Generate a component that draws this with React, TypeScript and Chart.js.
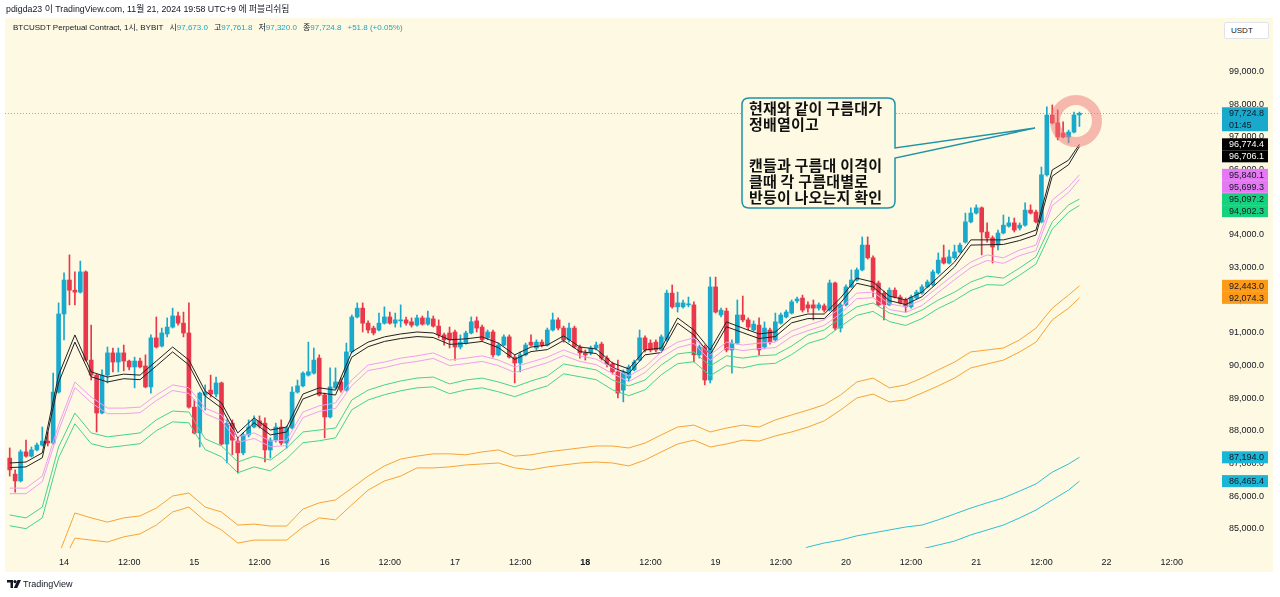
import React, { useEffect, useRef } from "react";
import { Chart, registerables } from "chart.js";

Chart.register(...registerables);

// ---------- DATA ----------
// candles: hourly, first candle = Nov 13 14:00 (hour -10 relative to Nov 14 00:00, UTC+9)
const FIRST_HOUR = -10;

const OPEN = [
  87170, 86680, 86470, 87360, 87230, 87420, 87570, 87690, 87630, 89190,
  91580, 92620, 92310, 92250, 92870, 90170, 89710, 88550, 89710, 90390,
  90110, 90390, 90140, 89960, 90140, 89990, 89350, 90850, 90600, 90970,
  91180, 91520, 91300, 91000, 88730, 87940, 89100, 89250, 89130, 89470,
  87600, 88240, 87690, 87330, 87880, 88120, 88310, 88240, 87420, 87720,
  88120, 87630, 88090, 89190, 89380, 89710, 89770, 90230, 89100, 88430,
  89320, 89500, 89250, 90420, 91490, 91760, 91300, 91150, 91090, 91300,
  91490, 91300, 91370, 91400, 91340, 91240, 91460, 91270, 91430, 91210,
  90940, 91000, 91030, 90570, 90690, 91000, 91370, 91180, 90850, 91030,
  90330, 90630, 90880, 90260, 90080, 90330, 90720, 90540, 90720, 90630,
  91090, 91400, 91150, 90790, 91150, 90570, 90390, 90390, 90540, 90660,
  90230, 90050, 89810, 89250, 89620, 89870, 90170, 90850, 90690, 90720,
  90480, 90790, 92220, 91800, 91800, 91860, 91860, 90330, 90570, 89560,
  92410, 91550, 91670, 90480, 90690, 91550, 91400, 91090, 91240, 90570,
  91090, 90790, 91300, 91490, 91610, 91980, 92070, 91860, 91860, 91760,
  91830, 91700, 92530, 91150, 91860, 92410, 92620, 92930, 93690, 93300,
  92530, 92220, 91860, 92310, 92100, 92010, 91800, 92070, 92220, 92410,
  92470, 92840, 93300, 93140, 93300, 93480, 93780, 94400, 94670, 94830,
  94090, 93910, 93690, 94060, 94270, 94370, 94210, 94300, 94760, 94700,
  94400, 95840, 97670, 97430, 97120, 97000, 97150, 97673.0,
];

const HIGH = [
  87480, 86810, 87420, 87720, 87510, 87630, 88120, 87970, 89770, 91920,
  92840, 93390, 92870, 93200, 92900, 91240, 89740, 89870, 90570, 90540,
  90540, 90630, 90170, 90260, 90230, 90330, 90940, 91490, 91150, 91460,
  91760, 91640, 91640, 91920, 88950, 89190, 89410, 89710, 89650, 89500,
  88340, 88340, 87790, 87940, 88340, 88460, 88460, 88400, 87790, 88240,
  88340, 88150, 89350, 89560, 89810, 90720, 90540, 90330, 89160, 89930,
  89930, 89620, 90690, 91550, 91920, 91920, 91370, 91210, 91610, 91800,
  91640, 91610, 91860, 91490, 91460, 91550, 91520, 91670, 91520, 91400,
  91000, 91180, 91090, 90940, 91060, 91490, 91490, 91240, 91090, 91090,
  90690, 90940, 90940, 90330, 90420, 90690, 90940, 90790, 90790, 91150,
  91610, 91460, 91210, 91300, 91210, 90630, 90480, 90600, 90720, 90720,
  90300, 90110, 90170, 89870, 90020, 90170, 91090, 90910, 90790, 90790,
  90940, 92310, 92470, 92250, 92010, 92100, 91950, 90630, 90630, 92710,
  92710, 91760, 91760, 90790, 92010, 92130, 91460, 91370, 91460, 91340,
  91150, 91610, 91610, 91700, 92010, 92100, 92160, 91950, 92010, 91920,
  91890, 92620, 92560, 91920, 92470, 92930, 92990, 93940, 93940, 93360,
  92590, 92280, 92380, 92380, 92160, 92070, 92160, 92310, 92470, 92620,
  92930, 93450, 93690, 93540, 93690, 93750, 94670, 94830, 94920, 94860,
  94370, 93970, 94150, 94610, 94550, 94520, 94370, 94980, 94920, 94760,
  96080, 97920, 97980, 97830, 97460, 97210, 97760, 97761.8,
];

const LOW = [
  86620, 86130, 86440, 87200, 87200, 87390, 87540, 87540, 87600, 89160,
  90790, 91860, 91860, 92220, 90140, 89560, 87970, 88520, 89470, 89810,
  89810, 89840, 89870, 89320, 89930, 89320, 89160, 90540, 90570, 90880,
  91150, 91240, 90880, 88700, 87910, 87510, 88640, 89040, 89040, 87570,
  87020, 87270, 86710, 87270, 87820, 88090, 88090, 87050, 87170, 87660,
  87570, 87480, 88060, 89160, 89350, 89680, 89740, 89070, 87790, 88400,
  89290, 89190, 89220, 90390, 91460, 91030, 91000, 90940, 91060, 91270,
  91270, 91180, 91180, 91240, 91180, 91210, 91240, 91240, 91180, 90850,
  90630, 90540, 90170, 90510, 90660, 90970, 91030, 90750, 90790, 90260,
  90300, 90600, 90230, 89470, 89810, 90300, 90600, 90480, 90570, 90600,
  91060, 91090, 90720, 90720, 90540, 90230, 90170, 90330, 90480, 90170,
  89960, 89740, 89010, 88890, 89530, 89840, 90140, 90420, 90420, 90420,
  90450, 90750, 91760, 91640, 91760, 91800, 90110, 90230, 89410, 89470,
  91610, 91490, 90420, 89770, 90660, 91340, 91090, 91060, 90330, 90510,
  90660, 90750, 91270, 91460, 91580, 91920, 91640, 91640, 91400, 91700,
  91640, 91670, 91090, 91030, 91830, 92380, 92590, 92900, 93260, 92100,
  91830, 91400, 91830, 92070, 91890, 91640, 91760, 92040, 92190, 92380,
  92440, 92800, 93110, 93110, 93260, 93450, 93750, 94370, 94640, 93390,
  93780, 93140, 93540, 94030, 94240, 94090, 94150, 94270, 94640, 94370,
  94370, 95800, 97400, 96910, 96970, 96820, 97120, 97320.0,
];

const CLOSE = [
  86810, 86470, 87360, 87230, 87420, 87570, 87690, 87630, 89190, 91580,
  92620, 92310, 92250, 92870, 90170, 89710, 88550, 89710, 90390, 90110,
  90390, 90140, 89960, 90140, 89960, 89350, 90850, 90570, 91000, 91180,
  91520, 91300, 91000, 88730, 87940, 89160, 89190, 89130, 89470, 87600,
  88240, 87720, 87330, 87880, 88120, 88340, 88150, 87420, 87720, 88120,
  87630, 88090, 89190, 89380, 89770, 89810, 90170, 89100, 88430, 89350,
  89500, 89250, 90420, 91490, 91760, 91300, 91090, 91000, 91300, 91490,
  91300, 91400, 91400, 91300, 91240, 91460, 91270, 91460, 91210, 90940,
  90790, 90790, 90570, 90720, 91000, 91340, 91150, 90790, 91030, 90330,
  90630, 90880, 90260, 90080, 90330, 90630, 90630, 90720, 90630, 91090,
  91400, 91150, 90790, 91150, 90570, 90390, 90330, 90540, 90630, 90230,
  90050, 89810, 89160, 89810, 89960, 90110, 90850, 90480, 90480, 90480,
  90880, 92220, 91800, 91920, 91920, 91890, 90330, 90570, 89560, 92410,
  91640, 91700, 90480, 90690, 91550, 91400, 91180, 91270, 90480, 91150,
  90720, 91340, 91550, 91640, 91950, 92040, 91700, 91760, 91760, 91860,
  91700, 92530, 91150, 91860, 92410, 92620, 92930, 93690, 93300, 92310,
  91860, 91860, 92310, 92100, 91920, 91800, 92100, 92250, 92410, 92560,
  92870, 93230, 93140, 93330, 93480, 93690, 94400, 94670, 94830, 94090,
  93910, 93630, 94060, 94300, 94370, 94150, 94300, 94760, 94670, 94400,
  95840, 97670, 97430, 97000, 97000, 97150, 97673.0, 97724.8,
];

// moving-average ribbons, sampled every 3 hours (hours relative to Nov 14 00:00)
const MA_TIMES = [
  -10, -7, -4, -1, 2, 5, 8, 11, 14, 17, 20, 23, 26, 29, 32, 35, 38, 41, 44, 47,
  50, 53, 56, 59, 62, 65, 68, 71, 74, 77, 80, 83, 86, 89, 92, 95, 98, 101, 104, 107,
  110, 113, 116, 119, 122, 125, 128, 131, 134, 137, 140, 143, 146, 149, 152, 155, 158, 161, 164, 167,
  170, 173, 176, 179, 182, 185, 187,
];

const BLACK_A = [
  87020, 87050, 87330, 89710, 90940, 89810, 89650, 89740, 89710, 90140,
  90570, 90170, 89220, 88860, 87940, 88400, 88030, 88120, 89130, 89320,
  89250, 90420, 90720, 90880, 90970, 91030, 91000, 90790, 90820, 90880,
  90690, 90330, 90570, 90630, 90910, 90570, 90510, 90080, 89900, 90480,
  90540, 91460, 91090, 90480, 91340, 91150, 90970, 91030, 91460, 91580,
  91580, 92070, 92680, 92560, 92130, 92010, 92250, 92710, 93170, 93850,
  93850, 93850, 93970, 94150, 95990, 96290, 96774.4,
];
const BLACK_B = [
  86880, 86900, 87180, 89480, 90720, 89660, 89500, 89600, 89570, 89990,
  90420, 90020, 89070, 88700, 87790, 88250, 87880, 87970, 88980, 89170,
  89100, 90260, 90580, 90740, 90830, 90890, 90860, 90650, 90680, 90740,
  90550, 90190, 90430, 90490, 90770, 90430, 90370, 89940, 89760, 90330,
  90400, 91300, 90940, 90330, 91190, 91010, 90830, 90890, 91310, 91440,
  91440, 91920, 92520, 92410, 91990, 91870, 92110, 92560, 93020, 93690,
  93700, 93710, 93830, 94000, 95800, 96150, 96706.1,
];
const PINK_A = [
  86250, 86250, 86620, 88180, 89500, 89040, 88700, 88700, 88730, 89100,
  89410, 89320, 88700, 88490, 87820, 87940, 87690, 87720, 88580, 88770,
  88860, 89560, 90020, 90110, 90230, 90300, 90390, 90170, 90230, 90300,
  90170, 89960, 90110, 90260, 90480, 90300, 90200, 89930, 89680, 89960,
  90420, 90720, 90850, 90330, 90720, 90630, 90690, 90720, 91060, 91240,
  91400, 91760, 92220, 92250, 91890, 91800, 92010, 92410, 92800, 93170,
  93390, 93300, 93540, 93690, 95070, 95470, 95840.1,
];
const PINK_B = [
  86080, 86080, 86450, 88010, 89330, 88870, 88530, 88530, 88560, 88930,
  89240, 89150, 88530, 88320, 87650, 87770, 87520, 87550, 88410, 88600,
  88690, 89390, 89850, 89940, 90060, 90130, 90220, 90000, 90060, 90130,
  90000, 89790, 89940, 90090, 90310, 90130, 90030, 89760, 89510, 89790,
  90250, 90550, 90680, 90160, 90550, 90460, 90520, 90550, 90890, 91070,
  91230, 91590, 92050, 92080, 91720, 91630, 91840, 92240, 92630, 93000,
  93220, 93130, 93370, 93520, 94900, 95300, 95699.3,
];
const GREEN_A = [
  85430, 85340, 85670, 87510, 88550, 87940, 87820, 87880, 87940, 88340,
  88610, 88580, 87760, 87540, 87050, 87230, 87110, 87480, 87970, 88030,
  88090, 88950, 89250, 89410, 89530, 89620, 89650, 89440, 89560, 89620,
  89500, 89350, 89530, 89680, 90050, 89960, 89870, 89560, 89380, 89560,
  90020, 90360, 90420, 89990, 90300, 90230, 90300, 90330, 90600, 90940,
  91090, 91460, 91800, 91920, 91610, 91490, 91700, 92010, 92250, 92560,
  92740, 92680, 92990, 93330, 94400, 94920, 95097.2,
];
const GREEN_B = [
  85100, 85010, 85340, 87180, 88220, 87610, 87490, 87550, 87610, 88010,
  88280, 88250, 87430, 87210, 86720, 86900, 86780, 87150, 87640, 87700,
  87790, 88650, 88950, 89110, 89230, 89320, 89350, 89140, 89260, 89320,
  89200, 89050, 89230, 89380, 89750, 89660, 89570, 89260, 89080, 89260,
  89720, 90060, 90120, 89690, 90000, 89930, 90040, 90070, 90340, 90680,
  90830, 91200, 91540, 91660, 91350, 91230, 91440, 91750, 91990, 92300,
  92480, 92460, 92770, 93110, 94180, 94700, 94902.3,
];

const ORANGE_TIMES = [
  -1, 2, 5, 8, 11, 14, 17, 20, 23, 26, 29, 32, 35, 38, 41, 44, 47,
  50, 53, 56, 59, 62, 65, 68, 71, 74, 77, 80, 83, 86, 89, 92, 95, 98, 101, 104, 107,
  110, 113, 116, 119, 122, 125, 128, 131, 134, 137, 140, 143, 146, 149, 152, 155, 158, 161, 164, 167,
  170, 173, 176, 179, 182, 185, 187,
];
const ORANGE_A = [
  84200, 85490, 85340, 85210, 85340, 85400, 85640,
  86010, 86100, 85670, 85520, 85120, 85150, 85090, 85090, 85610, 85800,
  85890, 86250, 86620, 86930, 87140, 87230, 87300, 87300, 87270, 87360,
  87420, 87230, 87270, 87360, 87420, 87480, 87540, 87540, 87480, 87630,
  87880, 88120, 88180, 87970, 88090, 88180, 88120, 88340, 88490, 88640,
  88800, 89100, 89500, 89620, 89320, 89410, 89620, 89870, 90110, 90420,
  90480, 90540, 90790, 91150, 91760, 92160, 92443.0,
];
const ORANGE_B = [
  83740, 84720, 84660, 84600, 84760, 84850, 85120,
  85520, 85670, 85240, 84970, 84570, 84660, 84660, 84660, 85060, 85340,
  85280, 85740, 86190, 86470, 86620, 86870, 86870, 86900, 86960, 86990,
  87020, 86870, 86810, 86900, 86960, 87020, 87050, 87020, 86930, 87110,
  87360, 87600, 87720, 87510, 87600, 87720, 87690, 87850, 87970, 88120,
  88310, 88640, 89010, 89130, 88890, 88950, 89160, 89380, 89620, 89930,
  90050, 90170, 90420, 90720, 91400, 91760, 92074.3,
];

const CYAN_A_TIMES = [134, 137, 140, 143, 146, 149, 152, 155, 158, 161, 164, 167, 170, 173, 176, 179, 182, 185, 187];
const CYAN_A = [
  84170, 84450, 84570, 84660, 84790, 84880, 84970, 85060, 85120, 85280,
  85460, 85640, 85800, 85950, 86160, 86380, 86740, 86990, 87194.0,
];
const CYAN_B_TIMES = [155, 158, 161, 164, 167, 170, 173, 176, 179, 182, 185, 187];
const CYAN_B = [84170, 84390, 84510, 84630, 84820, 84970, 85120, 85340, 85580, 85890, 86190, 86465.4];

// axes
const X_TICK_HOURS = [0, 12, 24, 36, 48, 60, 72, 84, 96, 108, 120, 132, 144, 156, 168, 180, 192, 204];
const X_TICK_LABELS = ["14", "12:00", "15", "12:00", "16", "12:00", "17", "12:00", "18", "12:00", "19", "12:00", "20", "12:00", "21", "12:00", "22", "12:00"];
const WEEK_START_LABEL = "18";
const Y_TICKS = [85000, 86000, 87000, 88000, 89000, 90000, 91000, 92000, 93000, 94000, 95000, 96000, 97000, 98000, 99000];
const X_MIN = -10.87;
const X_MAX = 212.52;
const Y_MIN = 84418;
const Y_MAX = 100641;

const COUNTDOWN = "01:45";
const CHANGE = 51.8;
const CHANGE_PCT = 0.05;

const HEADER_TEXT = "pdigda23 이 TradingView.com, 11월 21, 2024 19:58 UTC+9 에 퍼블리쉬됨";
const SYMBOL_TEXT = "BTCUSDT Perpetual Contract, 1시, BYBIT";
const OHLC_LABELS = ["시", "고", "저", "종"];
const NOTE_TOP = ["현재와 같이 구름대가", "정배열이고"];
const NOTE_BOTTOM = ["캔들과 구름대 이격이", "클때 각 구름대별로", "반등이 나오는지 확인"];

// ---------- STYLE ----------
const UP = "#19a9cc";
const DOWN = "#e9384b";
const PANEL_BG = "#fdf9e2";
const TEXT = "#131722";
const VALUE_COLOR = "#1aa6c6";
const FONT = "'Liberation Sans', 'Noto Sans CJK KR', Arial, sans-serif";

const fmt = (v: number) =>
  v.toLocaleString("en-US", { minimumFractionDigits: 1, maximumFractionDigits: 1 });

const SERIES = [
  { times: CYAN_B_TIMES, values: CYAN_B, color: "#2ec0d8", bg: "#19b6d7", fg: TEXT },
  { times: CYAN_A_TIMES, values: CYAN_A, color: "#2ec0d8", bg: "#19b6d7", fg: TEXT },
  { times: ORANGE_TIMES, values: ORANGE_B, color: "#f8a437", bg: "#fd9a18", fg: TEXT },
  { times: ORANGE_TIMES, values: ORANGE_A, color: "#f8a437", bg: "#fd9a18", fg: TEXT },
  { times: MA_TIMES, values: GREEN_B, color: "#45d58b", bg: "#16d27f", fg: TEXT },
  { times: MA_TIMES, values: GREEN_A, color: "#45d58b", bg: "#16d27f", fg: TEXT },
  { times: MA_TIMES, values: PINK_B, color: "#ef9ff0", bg: "#e677f5", fg: TEXT },
  { times: MA_TIMES, values: PINK_A, color: "#ef9ff0", bg: "#e677f5", fg: TEXT },
  { times: MA_TIMES, values: BLACK_B, color: "#222222", bg: "#000000", fg: "#ffffff" },
  { times: MA_TIMES, values: BLACK_A, color: "#222222", bg: "#000000", fg: "#ffffff" },
];

const LAST = CLOSE.length - 1;

const panelPlugin = {
  id: "panelPlugin",
  beforeDraw(chart: any) {
    const ctx = chart.ctx;
    ctx.save();
    ctx.fillStyle = PANEL_BG;
    ctx.fillRect(5, 18, 1268, 554);
    ctx.restore();
  },
  beforeDatasetsDraw(chart: any) {
    const { ctx, chartArea, scales } = chart;
    const y = Math.round(scales.y.getPixelForValue(CLOSE[LAST])) + 0.5;
    ctx.save();
    ctx.strokeStyle = "#5cc3dc";
    ctx.lineWidth = 1;
    ctx.setLineDash([1, 2]);
    ctx.beginPath();
    ctx.moveTo(chartArea.left, y);
    ctx.lineTo(chartArea.right, y);
    ctx.stroke();
    ctx.restore();
  },
  afterDraw(chart: any) {
    const { ctx, scales, chartArea } = chart;
    const items: any[] = [
      { v: CLOSE[LAST], bg: UP, fg: TEXT, rows: [fmt(CLOSE[LAST]), COUNTDOWN] },
      ...SERIES.map((s) => {
        const v = s.values[s.values.length - 1];
        return { v, bg: s.bg, fg: s.fg, rows: [fmt(v)] };
      }),
    ].sort((a, b) => b.v - a.v);
    const H = 12;
    const left = chartArea.right + 4;
    const w = 46;
    let prevBottom = -Infinity;
    ctx.save();
    ctx.font = `9px ${FONT}`;
    ctx.textBaseline = "middle";
    ctx.textAlign = "left";
    for (const it of items) {
      let top = scales.y.getPixelForValue(it.v) - H / 2;
      if (top < prevBottom) top = prevBottom;
      const h = H * it.rows.length;
      ctx.fillStyle = it.bg;
      ctx.fillRect(left, top, w, h);
      ctx.fillStyle = it.fg;
      it.rows.forEach((r: string, k: number) => {
        ctx.fillText(r, chartArea.right + 11, top + H / 2 + k * H + 0.5);
      });
      prevBottom = top + h;
    }
    ctx.restore();
  },
};

export default function App() {
  const ref = useRef<HTMLCanvasElement | null>(null);

  useEffect(() => {
    document.body.style.margin = "0";
    const colors = OPEN.map((o, i) => (CLOSE[i] >= o ? UP : DOWN));
    const times = OPEN.map((_, i) => FIRST_HOUR + i);
    const lineSets = SERIES.map((s) => ({
      type: "line",
      data: s.times.map((t, j) => ({ x: t, y: s.values[j] })),
      borderColor: s.color,
      borderWidth: 1,
      pointRadius: 0,
      tension: 0,
      fill: false,
      order: 0,
    }));
    const chart = new Chart(ref.current as HTMLCanvasElement, {
      type: "bar",
      data: {
        datasets: [
          ...lineSets,
          {
            type: "bar",
            data: times.map((t, i) => ({ x: t, y: [LOW[i], HIGH[i]] })),
            backgroundColor: colors,
            barThickness: 1,
            grouped: false,
            order: 2,
          },
          {
            type: "bar",
            data: times.map((t, i) => ({ x: t, y: [OPEN[i], CLOSE[i]] })),
            backgroundColor: colors,
            barThickness: 4,
            minBarLength: 1,
            grouped: false,
            order: 1,
          },
        ] as any,
      },
      options: {
        responsive: false,
        animation: false,
        devicePixelRatio: 1,
        events: [],
        layout: { padding: { left: 5, top: 18, right: 7, bottom: 25 } },
        plugins: { legend: { display: false }, tooltip: { enabled: false } },
        scales: {
          x: {
            type: "linear",
            min: X_MIN,
            max: X_MAX,
            offset: false,
            bounds: "data",
            grid: { display: false, drawTicks: false },
            border: { display: false },
            afterBuildTicks: (s: any) => {
              s.ticks = X_TICK_HOURS.map((v) => ({ value: v }));
            },
            afterFit: (s: any) => {
              s.height = 24;
            },
            ticks: {
              autoSkip: false,
              maxRotation: 0,
              padding: 9,
              color: TEXT,
              font: (c: any) => ({
                family: FONT,
                size: 9,
                weight: c.tick && c.tick.label === WEEK_START_LABEL ? "bold" : "normal",
              }),
              callback: (v: any) => X_TICK_LABELS[X_TICK_HOURS.indexOf(Number(v))],
            },
          },
          y: {
            type: "linear",
            position: "right",
            min: Y_MIN,
            max: Y_MAX,
            bounds: "data",
            grid: { display: false, drawTicks: false },
            border: { display: false },
            afterBuildTicks: (s: any) => {
              s.ticks = Y_TICKS.map((v) => ({ value: v }));
            },
            afterFit: (s: any) => {
              s.width = 55;
            },
            ticks: {
              padding: 11,
              color: TEXT,
              font: { family: FONT, size: 9 },
              callback: (v: any) => fmt(Number(v)),
            },
          },
        },
      } as any,
      plugins: [panelPlugin],
    });
    return () => chart.destroy();
  }, []);

  const ohlc = [OPEN[LAST], HIGH[LAST], LOW[LAST], CLOSE[LAST]];
  const noteStyle: any = {
    position: "absolute",
    left: 749,
    fontSize: 15,
    fontWeight: "bold",
    color: "#111",
    lineHeight: "16px",
    whiteSpace: "nowrap",
    fontFamily: "'Noto Sans CJK KR', sans-serif",
    letterSpacing: "0.2px",
  };

  return (
    <div style={{ position: "absolute", left: 0, top: 0, width: 1280, height: 597, background: "#fff", overflow: "hidden", fontFamily: FONT }}>
      <canvas ref={ref} width={1280} height={597} style={{ position: "absolute", left: 0, top: 0 }} />
      <div style={{ position: "absolute", left: 6, top: 3, fontSize: 8.8, color: TEXT, whiteSpace: "nowrap", lineHeight: "12px" }}>
        {HEADER_TEXT}
      </div>
      <div style={{ position: "absolute", left: 13, top: 22, fontSize: 8, color: TEXT, whiteSpace: "nowrap", lineHeight: "12px", display: "flex", gap: 6 }}>
        <span>{SYMBOL_TEXT}</span>
        {OHLC_LABELS.map((l, i) => (
          <span key={l}>
            {l}
            <span style={{ color: VALUE_COLOR }}>{fmt(ohlc[i])}</span>
          </span>
        ))}
        <span style={{ color: VALUE_COLOR }}>
          +{CHANGE.toFixed(1)} (+{CHANGE_PCT.toFixed(2)}%)
        </span>
      </div>
      <div style={{ position: "absolute", left: 1224, top: 22, width: 45, height: 17, boxSizing: "border-box", border: "1px solid #e0e3eb", background: "#fff", borderRadius: 2, fontSize: 8, color: TEXT, lineHeight: "15px", paddingLeft: 6 }}>
        USDT
      </div>
      <svg width={1280} height={597} style={{ position: "absolute", left: 0, top: 0, pointerEvents: "none" }}>
        <path
          d="M 749 98 H 888 Q 895 98 895 105 V 148 L 1035 128 L 895 158 V 201 Q 895 208 888 208 H 749 Q 742 208 742 201 V 105 Q 742 98 749 98 Z"
          fill={PANEL_BG}
          stroke="#1f93a8"
          strokeWidth={1.5}
        />
        <ellipse cx={1076} cy={121} rx={21} ry={21} fill="none" stroke="rgba(240,118,118,0.5)" strokeWidth={10} />
        <g transform="translate(7,580)">
          <path d="M0 0 H6 V8 H3.5 V2.5 H0 Z" fill="#131722" />
          <circle cx={8} cy={1.6} r={1.6} fill="#131722" />
          <path d="M10.5 0 H14 L10.2 8 H6.8 Z" fill="#131722" />
        </g>
      </svg>
      <div style={{ ...noteStyle, top: 100 }}>
        {NOTE_TOP.map((t) => (
          <div key={t}>{t}</div>
        ))}
      </div>
      <div style={{ ...noteStyle, top: 157 }}>
        {NOTE_BOTTOM.map((t) => (
          <div key={t}>{t}</div>
        ))}
      </div>
      <div style={{ position: "absolute", left: 23, top: 579, fontSize: 9, color: TEXT, lineHeight: "11px", whiteSpace: "nowrap" }}>
        TradingView
      </div>
    </div>
  );
}
